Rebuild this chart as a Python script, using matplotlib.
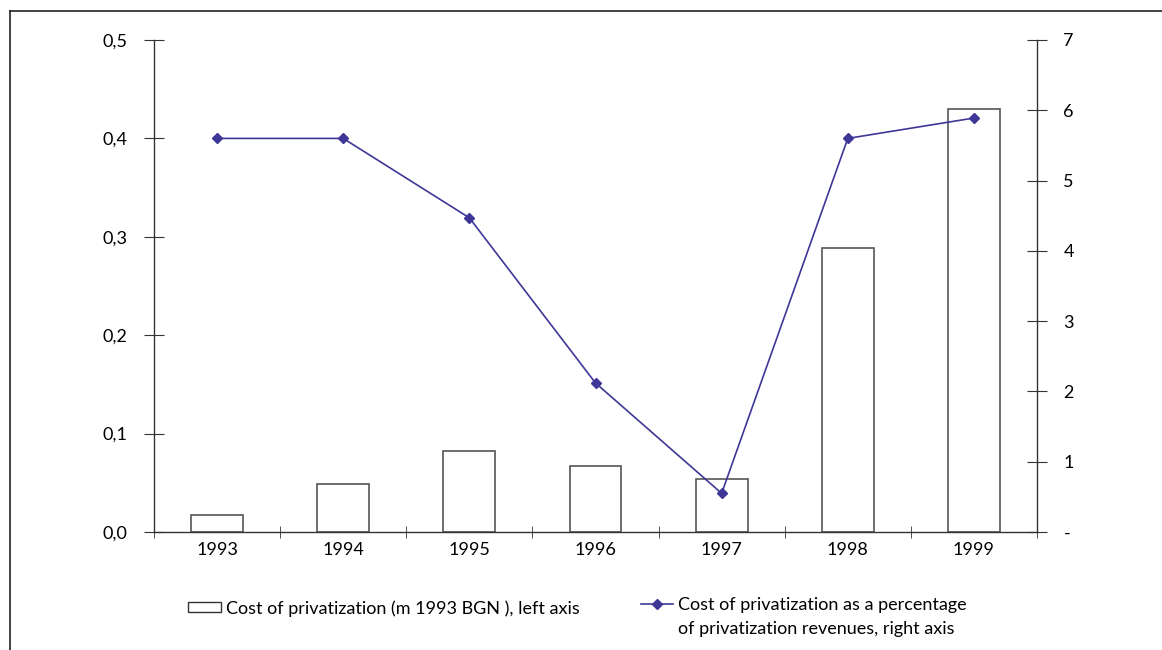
import matplotlib
matplotlib.use("Agg")
import matplotlib.pyplot as plt
from matplotlib.patches import Rectangle
from matplotlib.lines import Line2D
import numpy as np

plt.rcParams['font.family'] = ['Lato', 'DejaVu Sans']

years = ["1993", "1994", "1995", "1996", "1997", "1998", "1999"]
cost_m_bgn = [0.017, 0.049, 0.082, 0.067, 0.054, 0.289, 0.430]
cost_pct_revenues = [5.60, 5.60, 4.47, 2.12, 0.55, 5.60, 5.89]
left_ticks = [0.0, 0.1, 0.2, 0.3, 0.4, 0.5]
left_labels = ["0,0", "0,1", "0,2", "0,3", "0,4", "0,5"]
right_ticks = [0, 1, 2, 3, 4, 5, 6, 7]
right_labels = ["-", "1", "2", "3", "4", "5", "6", "7"]
bar_label = "Cost of privatization (m 1993 BGN ), left axis"
line_label_1 = "Cost of privatization as a percentage"
line_label_2 = "of privatization revenues, right axis"

line_color = "#3E3797"
axis_color = "#333333"
fs = 13

fig = plt.figure(figsize=(11.62, 6.5), dpi=100)
ax = fig.add_axes([154/1162, 1-532/650, (1037-154)/1162, (532-40)/650])
ax2 = ax.twinx()

x = np.arange(len(years))
ax.bar(x, cost_m_bgn, width=0.41, facecolor="white", edgecolor="#555555", linewidth=1.2, zorder=2)
ax.set_xlim(-0.5, len(years)-0.5)
ax.set_ylim(0, 0.5)
ax.set_yticks(left_ticks)
ax.set_yticklabels(left_labels)
ax.set_xticks(x)
ax.set_xticklabels(years)
ax.set_xticks(np.arange(-0.5, len(years)), minor=True)
ax.tick_params(axis='x', which='major', length=0, pad=7, labelsize=fs)
ax.tick_params(axis='x', which='minor', direction='inout', length=8, color=axis_color)
ax.tick_params(axis='y', direction='inout', length=14, color=axis_color, labelsize=fs, pad=12)

ax2.plot(x, cost_pct_revenues, color=line_color, linewidth=1.2, marker='D', markersize=5, zorder=3)
ax2.set_ylim(0, 7)
ax2.set_yticks(right_ticks)
ax2.set_yticklabels(right_labels)
ax2.tick_params(axis='y', direction='inout', length=14, color=axis_color, labelsize=fs, pad=12)

for a in (ax, ax2):
    a.spines['top'].set_visible(False)
    for s in ('left', 'right', 'bottom'):
        a.spines[s].set_color(axis_color)
        a.spines[s].set_linewidth(1.0)
ax.spines['right'].set_visible(False)
ax2.spines['left'].set_visible(False)
ax2.spines['bottom'].set_visible(False)

# legend
h1 = Rectangle((0, 0), 1, 1, facecolor="white", edgecolor="#333333", linewidth=1.0)
h2 = Line2D([], [], color=line_color, linewidth=1.2, marker='D', markersize=5)
h3 = Line2D([], [], color="none", linewidth=0)
fig.legend([h1], [bar_label],
           loc='upper left', bbox_to_anchor=(188/1162, 1-600/650), frameon=False,
           fontsize=fs, handlelength=1.8, handleheight=0.45, handletextpad=0.3, borderpad=0,
           borderaxespad=0)
fig.legend([h2, h3], [line_label_1, line_label_2],
           loc='upper left', bbox_to_anchor=(641/1162, 1-597/650), frameon=False,
           fontsize=fs, handlelength=1.75, handletextpad=0.3, borderpad=0,
           borderaxespad=0, labelspacing=0.45)

# outer frame
fig.add_artist(Line2D([10/1162, 1.0], [1-11/650, 1-11/650], color="#222222", linewidth=1.2, transform=fig.transFigure))
fig.add_artist(Line2D([10/1162, 10/1162], [1-11/650, 0], color="#222222", linewidth=1.2, transform=fig.transFigure))

fig.savefig("out.png", dpi=100)
